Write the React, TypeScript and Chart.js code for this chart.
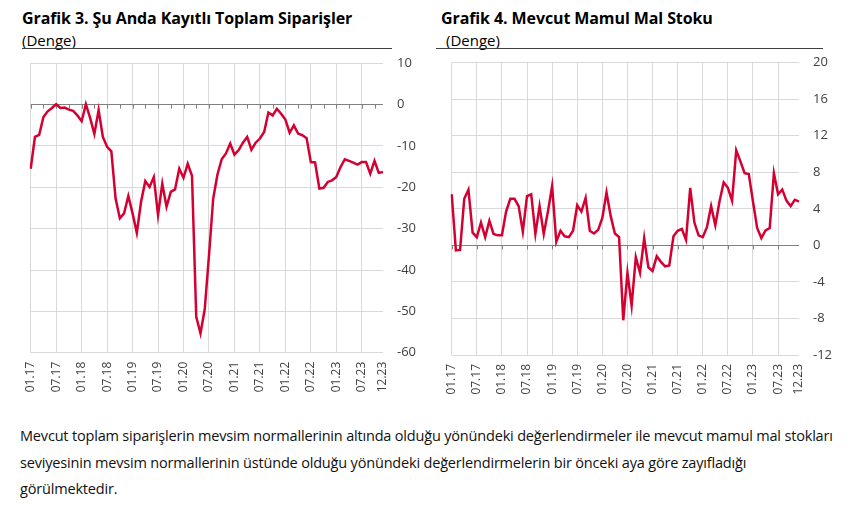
import React, { useEffect, useRef } from 'react';
import { Chart, registerables } from 'chart.js';

Chart.register(...registerables);

// Categories: monthly, 01.17 – 12.23
const yearSuffixes = ['17', '18', '19', '20', '21', '22', '23'];
const monthCodes = ['01', '02', '03', '04', '05', '06', '07', '08', '09', '10', '11', '12'];
const months: string[] = [];
for (const y of yearSuffixes) for (const m of monthCodes) months.push(`${m}.${y}`);

// Grafik 3: Şu Anda Kayıtlı Toplam Siparişler (Denge)
const ordersBalance = [
  -15.5, -7.8, -7.3, -3.0, -1.6, -0.8, 0.1, -0.8, -0.7, -1.2, -1.5, -2.6,
  -4.0, 0.1, -3.2, -7.1, -1.3, -7.8, -10.2, -11.3, -22.7, -27.5, -26.3, -22.1,
  -26.3, -31.0, -23.5, -18.5, -19.9, -17.5, -26.7, -19.1, -24.7, -21.1, -20.5, -15.5,
  -17.7, -14.3, -17.2, -51.3, -55.3, -49.5, -36.5, -22.7, -16.9, -13.2, -11.8, -9.4,
  -12.1, -11.0, -9.2, -7.8, -10.9, -9.2, -8.2, -6.6, -1.9, -2.6, -1.0, -2.2,
  -3.6, -6.8, -5.0, -7.0, -7.4, -8.1, -13.9, -14.0, -20.3, -20.1, -18.7, -18.3,
  -17.5, -15.1, -13.2, -13.6, -14.0, -14.5, -13.9, -13.9, -16.7, -13.6, -16.5, -16.3,
];

// Grafik 4: Mevcut Mamul Mal Stoku (Denge)
const stockBalance = [
  5.6, -0.55, -0.5, 5.1, 6.1, 1.4, 0.9, 2.5, 0.9, 2.7, 1.25, 1.1,
  1.1, 3.7, 5.1, 5.1, 4.3, 1.5, 5.4, 5.6, 1.25, 4.3, 1.25, 3.7,
  6.5, 0.4, 1.6, 1.0, 0.9, 1.6, 4.4, 3.7, 5.2, 1.6, 1.3, 1.7,
  3.0, 5.8, 3.2, 1.3, 0.9, -8.2, -3.0, -6.6, -1.3, -3.0, 0.8, -2.4,
  -2.8, -1.2, -1.8, -2.3, -2.2, 1.0, 1.6, 1.8, 0.6, 6.3, 2.5, 1.1,
  0.9, 2.0, 4.3, 2.2, 4.8, 6.9, 6.3, 4.9, 10.4, 9.2, 7.9, 7.8,
  4.8, 1.9, 0.8, 1.65, 1.9, 7.9, 5.6, 6.1, 4.9, 4.3, 5.0, 4.8,
];

// Axis ranges
const ordersAxis = { min: -60, max: 10, step: 10 };
const stockAxis = { min: -12, max: 20, step: 4 };

const FONT = "'Open Sans', 'Noto Sans', sans-serif";
const LINE_COLOR = '#d50032';
const GRID_COLOR = '#d9d9d9';
const ZERO_COLOR = '#808080';
const TEXT_COLOR = '#404040';

const zeroTicksPlugin = {
  id: 'zeroTicks',
  beforeDatasetsDraw(chart: any, _args: any, opts: any) {
    const { ctx, scales } = chart;
    const xs = scales.x;
    const ys = scales.y;
    const y0 = ys.getPixelForValue(0);
    const n = chart.data.labels.length;
    ctx.save();
    ctx.strokeStyle = ZERO_COLOR;
    ctx.lineWidth = 1;
    ctx.beginPath();
    for (let i = 0; i < n; i += opts.every) {
      const px = Math.round(xs.getPixelForValue(i)) + 0.5;
      ctx.moveTo(px, y0);
      ctx.lineTo(px, y0 + 4);
    }
    ctx.stroke();
    ctx.restore();
  },
};

type LineChartProps = {
  values: number[];
  axis: { min: number; max: number; step: number };
  left: number;
  top: number;
  width: number;
  height: number;
  padLeft: number;
  padTop: number;
  yWidth: number;
  xHeight: number;
  tickEvery: number;
};

function LineChart(p: LineChartProps) {
  const ref = useRef<HTMLCanvasElement | null>(null);
  useEffect(() => {
    if (!ref.current) return;
    const last = months.length - 1;
    const chart = new Chart(ref.current, {
      type: 'line',
      data: {
        labels: months,
        datasets: [
          {
            data: p.values,
            borderColor: LINE_COLOR,
            borderWidth: 2.5,
            pointRadius: 0,
            tension: 0,
            fill: false,
          },
        ],
      },
      options: {
        animation: false,
        responsive: false,
        events: [],
        layout: { padding: { left: p.padLeft, top: p.padTop, right: 0, bottom: 0 } },
        plugins: {
          legend: { display: false },
          tooltip: { enabled: false },
          zeroTicks: { every: p.tickEvery },
        } as any,
        scales: {
          x: {
            type: 'category',
            grid: {
              color: (c: any) => (c.index % 6 === 0 ? GRID_COLOR : 'rgba(0,0,0,0)'),
              drawTicks: false,
              lineWidth: 1,
            },
            border: { display: false },
            ticks: {
              autoSkip: false,
              maxRotation: 90,
              minRotation: 90,
              padding: 9,
              color: TEXT_COLOR,
              font: { family: FONT, size: 12 },
              callback: (_v: any, i: number) => (i % 6 === 0 || i === last ? months[i] : ''),
            },
            afterFit: (s: any) => {
              s.height = p.xHeight;
              s.paddingLeft = 0;
              s.paddingRight = 0;
            },
          },
          y: {
            position: 'right',
            min: p.axis.min,
            max: p.axis.max,
            ticks: {
              stepSize: p.axis.step,
              padding: 14,
              color: TEXT_COLOR,
              font: { family: FONT, size: 13 },
            },
            grid: {
              color: (c: any) => (c.tick && c.tick.value === 0 ? ZERO_COLOR : GRID_COLOR),
              drawTicks: false,
              lineWidth: 1,
            },
            border: { display: false },
            afterFit: (s: any) => {
              s.width = p.yWidth;
              s.paddingTop = 0;
              s.paddingBottom = 0;
            },
          },
        },
      } as any,
      plugins: [zeroTicksPlugin],
    });
    return () => chart.destroy();
  }, []);
  return (
    <canvas
      ref={ref}
      width={p.width}
      height={p.height}
      style={{ position: 'absolute', left: p.left, top: p.top, width: p.width, height: p.height }}
    />
  );
}

const titleStyle: React.CSSProperties = {
  position: 'absolute',
  fontFamily: FONT,
  fontWeight: 700,
  fontSize: 16,
  lineHeight: '20px',
  color: '#000',
  whiteSpace: 'nowrap',
  letterSpacing: '-0.1px',
};
const subStyle: React.CSSProperties = {
  position: 'absolute',
  fontFamily: FONT,
  fontSize: 15,
  lineHeight: '20px',
  color: '#000',
  whiteSpace: 'nowrap',
};
const paraStyle: React.CSSProperties = {
  position: 'absolute',
  left: 20,
  fontFamily: FONT,
  fontSize: 14.5,
  lineHeight: '20px',
  color: '#111',
  whiteSpace: 'nowrap',
  letterSpacing: '-0.18px',
};

const paragraphLines = [
  'Mevcut toplam siparişlerin mevsim normallerinin altında olduğu yönündeki değerlendirmeler ile mevcut mamul mal stokları',
  'seviyesinin mevsim normallerinin üstünde olduğu yönündeki değerlendirmelerin bir önceki aya göre zayıfladığı',
  'görülmektedir.',
];

export default function App() {
  return (
    <div style={{ position: 'absolute', left: 0, top: 0, width: 854, height: 512 }}>
      <div style={{ ...titleStyle, left: 22, top: 8 }}>Grafik 3. Şu Anda Kayıtlı Toplam Siparişler</div>
      <div style={{ ...subStyle, left: 22, top: 30 }}>(Denge)</div>
      <div style={{ position: 'absolute', left: 22, top: 48, width: 370, height: 1, background: '#404040' }} />

      <div style={{ ...titleStyle, left: 441, top: 8 }}>Grafik 4. Mevcut Mamul Mal Stoku</div>
      <div style={{ ...subStyle, left: 446, top: 30 }}>(Denge)</div>
      <div style={{ position: 'absolute', left: 436, top: 48, width: 387, height: 1, background: '#404040' }} />

      <LineChart
        values={ordersBalance}
        axis={ordersAxis}
        left={20}
        top={55}
        width={420}
        height={350}
        padLeft={10.7}
        padTop={8.3}
        yWidth={57}
        xHeight={52.3}
        tickEvery={3}
      />
      <LineChart
        values={stockBalance}
        axis={stockAxis}
        left={440}
        top={55}
        width={410}
        height={350}
        padLeft={11.7}
        padTop={7.7}
        yWidth={51}
        xHeight={50}
        tickEvery={6}
      />

      {paragraphLines.map((t, i) => (
        <div key={i} style={{ ...paraStyle, top: 426 + i * 26.5 }}>
          {t}
        </div>
      ))}
    </div>
  );
}
